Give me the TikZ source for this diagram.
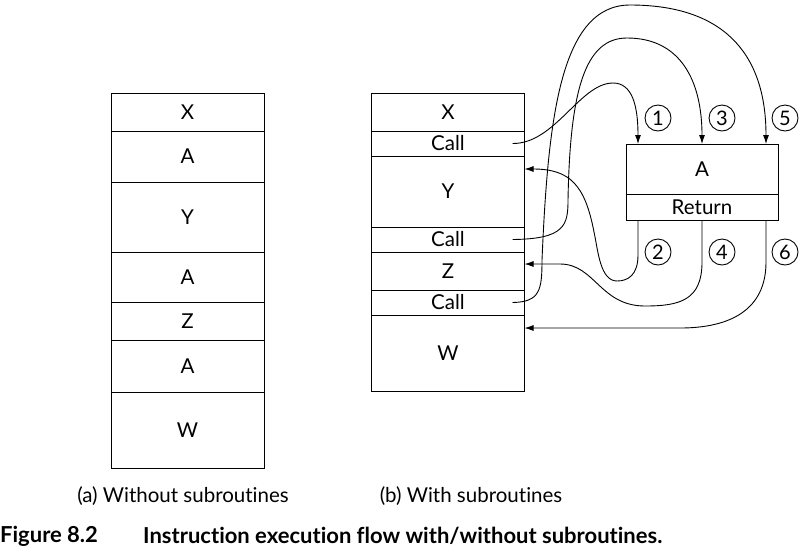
\documentclass[tikz,border=0pt]{standalone}
\usepackage{fontspec}
\setmainfont{Lato}[Ligatures=NoCommon]
\usetikzlibrary{arrows.meta}
\tikzset{
    cell/.style = {draw, rectangle, minimum width=153pt, inner sep=0pt, outer sep=0pt, line width=0.9pt},
    num/.style = {draw, circle, minimum size=26pt, inner sep=0pt, line width=0.9pt, font=\fontsize{20}{23}\selectfont},
    flow/.style = {line width=0.9pt, -{Latex[length=9pt,width=6pt]}},
    caption-text/.style = {inner sep=0pt, anchor=west, font=\fontsize{22}{26}\selectfont\bfseries},
}

\begin{document}
\begin{tikzpicture}[x=1pt, y=-1pt, font=\fontsize{20.5}{24}\selectfont]
\useasboundingbox (0,0) rectangle (802,558);
% (a) without subroutines
\node[cell, minimum height=38pt] (lx) at (187.5,112) {X};
\node[cell, minimum height=51pt, anchor=north] (la1) at (lx.south) {A};
\node[cell, minimum height=70pt, anchor=north] (ly) at (la1.south) {Y};
\node[cell, minimum height=50pt, anchor=north] (la2) at (ly.south) {A};
\node[cell, minimum height=38pt, anchor=north] (lz) at (la2.south) {Z};
\node[cell, minimum height=52pt, anchor=north] (la3) at (lz.south) {A};
\node[cell, minimum height=76pt, anchor=north] (lw) at (la3.south) {W};

% (b) with subroutines
\node[cell, minimum height=38pt] (rx) at (448,112) {X};
\node[cell, minimum height=25pt, anchor=north] (rc1) at (rx.south) {Call};
\node[cell, minimum height=71pt, anchor=north] (ry) at (rc1.south) {Y};
\node[cell, minimum height=25pt, anchor=north] (rc2) at (ry.south) {Call};
\node[cell, minimum height=38pt, anchor=north] (rz) at (rc2.south) {Z};
\node[cell, minimum height=25pt, anchor=north] (rc3) at (rz.south) {Call};
\node[cell, minimum height=76pt, anchor=north] (rw) at (rc3.south) {W};

% subroutine A
\node[cell, minimum width=152pt, minimum height=50pt] (sa) at (702,169) {A};
\node[cell, minimum width=152pt, minimum height=26pt, anchor=north] (sret) at (sa.south) {Return};

\node[num] (n1) at (658,118) {1};
\node[num] (n3) at (722,118) {3};
\node[num] (n5) at (785,118) {5};
\node[num] (n2) at (658,252) {2};
\node[num] (n4) at (722,252) {4};
\node[num] (n6) at (785,252) {6};

% calls
\draw[flow] ([xshift=-12pt]rc1.east) .. controls (555,144) and (580,83) .. (613,83) .. controls (632,83) and (638,105) .. ([xshift=-64pt]sa.north);
\draw[flow] ([xshift=-12pt]rc2.east) .. controls (565,239) and (568,225) .. (568,200) .. controls (570,90) and (585,38) .. (627,38) .. controls (680,38) and (702,80) .. (sa.north);
\draw[flow] ([xshift=-12pt]rc3.east) .. controls (540,302) and (542,290) .. (542,260) .. controls (548,120) and (560,5) .. (630,5) .. controls (720,5) and (766,50) .. ([xshift=64pt]sa.north);

% returns
\draw[flow] ([xshift=-64pt]sret.south) -- (638,255) .. controls (638,275) and (628,281) .. (617,281) .. controls (600,281) and (598,250) .. (594,232) .. controls (585,185) and (570,169) .. ([yshift=22.5pt]ry.east);
\draw[flow] (sret.south) -- (702,262) .. controls (702,300) and (680,306) .. (645,306) .. controls (600,306) and (595,264) .. (560,264) -- ([yshift=7pt]rz.east);
\draw[flow] ([xshift=64pt]sret.south) -- (766,262) .. controls (766,310) and (730,328) .. (680,328) -- ([yshift=-13pt]rw.north east);

% captions
\node (capa) at (183,496) {(a) Without subroutines};
\node (capb) at (471,496) {(b) With subroutines};
\node[caption-text] (fig) at (0,536) {Figure 8.2};
\node[caption-text] (title) at (143,536) {Instruction execution flow with/without subroutines.};
\end{tikzpicture}
\end{document}
